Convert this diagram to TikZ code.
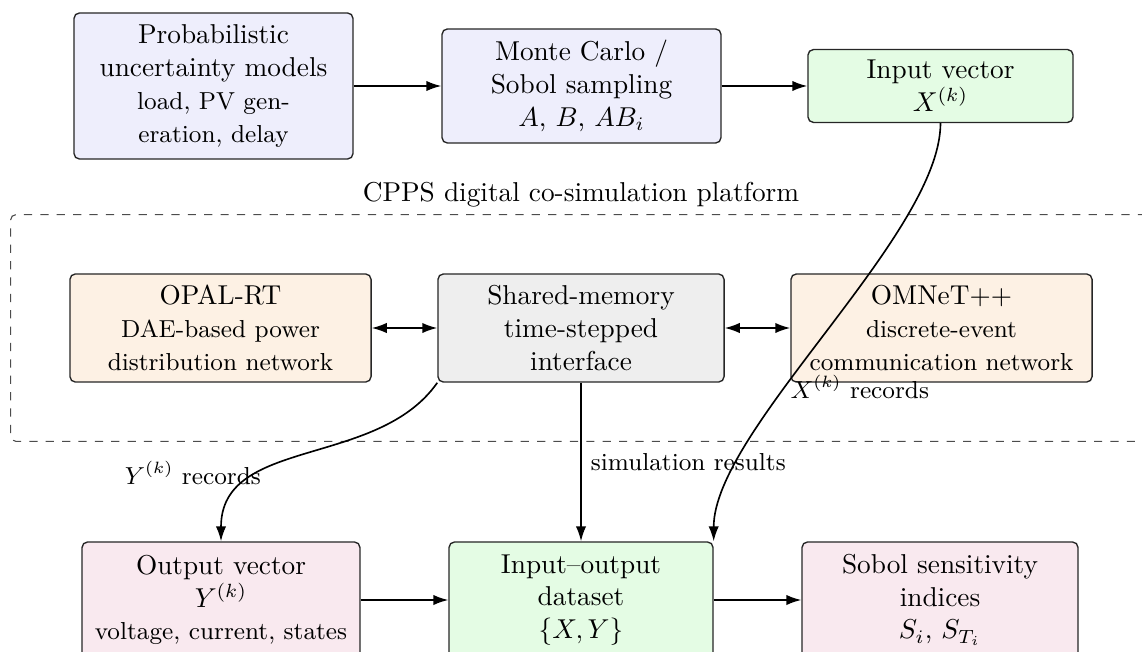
\documentclass[tikz,border=0pt]{standalone}
\usetikzlibrary{arrows.meta,fit}
\definecolor{cblue}{RGB}{238,238,252}
\definecolor{cgreen}{RGB}{228,252,228}
\definecolor{corange}{RGB}{253,241,228}
\definecolor{cgray}{RGB}{238,238,238}
\definecolor{cpink}{RGB}{249,233,239}
\begin{document}
\begin{tikzpicture}[x=0.3663pt, y=0.3663pt,
  box/.style={draw=black!85, line width=0.5pt, rounded corners=2pt, align=center, inner sep=3.33pt},
  arr/.style={semithick, -{Latex[length=5.5pt,width=3.8pt]}},
  dblarr/.style={semithick, {Latex[length=5.5pt,width=3.8pt]}-{Latex[length=5.5pt,width=3.8pt]}},
  lbl/.style={font=\small}]
\useasboundingbox (0,0) rectangle (1142,-651);
\clip (0,0) rectangle (1142,-651);

% sampling stage
\node[box, fill=cblue, minimum width=102.2pt, minimum height=53.5pt] (unc) at (213.5,-86)
  {Probabilistic\\uncertainty models\\{\small load, PV gen-}\\{\small eration, delay}};
\node[box, fill=cblue, minimum width=102.2pt, minimum height=41.8pt] (mc) at (581.5,-86)
  {Monte Carlo /\\Sobol sampling\\$A$, $B$, $AB_i$};
\node[box, fill=cgreen, minimum width=97.1pt, minimum height=26.7pt] (xin) at (940.5,-86)
  {Input vector\\$X^{(k)}$};

% co-simulation platform
\node[box, fill=corange, minimum width=110.3pt, minimum height=39.6pt] (opal) at (220.5,-328)
  {OPAL-RT\\{\small DAE-based power}\\{\small distribution network}};
\node[box, fill=cgray, minimum width=104.8pt, minimum height=39.6pt] (shared) at (581,-328)
  {Shared-memory\\time-stepped\\interface};
\node[box, fill=corange, minimum width=110.3pt, minimum height=39.6pt] (omnet) at (941.5,-328)
  {OMNeT++\\{\small discrete-event}\\{\small communication network}};
\node[fit=(opal)(shared)(omnet), inner sep=21.5pt, draw=black!70, line width=0.4pt, dashed,
  rounded corners=2pt, label={[name=cpps-title, yshift=-1pt]above:CPPS digital co-simulation platform}] (cpps) {};

% analysis stage
\node[box, fill=cpink, minimum width=101.8pt, minimum height=42.5pt] (yout) at (221,-600)
  {Output vector\\$Y^{(k)}$\\{\small voltage, current, states}};
\node[box, fill=cgreen, minimum width=96.7pt, minimum height=42.5pt] (data) at (581,-600)
  {Input--output\\dataset\\$\{X,Y\}$};
\node[box, fill=cpink, minimum width=101.1pt, minimum height=42.5pt] (sobol) at (940,-600)
  {Sobol sensitivity\\indices\\$S_i$, $S_{T_i}$};

% connectors
\draw[arr] (unc) -- (mc);
\draw[arr] (mc) -- (xin);
\draw[dblarr] (opal) -- (shared);
\draw[dblarr] (shared) -- (omnet);
\draw[arr] (shared) -- node[lbl, right] {simulation results} (data);
\draw[arr] (xin) to[out=-90,in=90,looseness=0.6]
  node[lbl, pos=0.62, anchor=west, inner sep=1pt] {$X^{(k)}$ records} (data.north east);
\draw[arr] (shared.south west) to[out=-125,in=90]
  node[lbl, pos=0.67, anchor=east, inner sep=0.5pt] {$Y^{(k)}$ records} (yout.north);
\draw[arr] (yout) -- (data);
\draw[arr] (data) -- (sobol);
\end{tikzpicture}
\end{document}
